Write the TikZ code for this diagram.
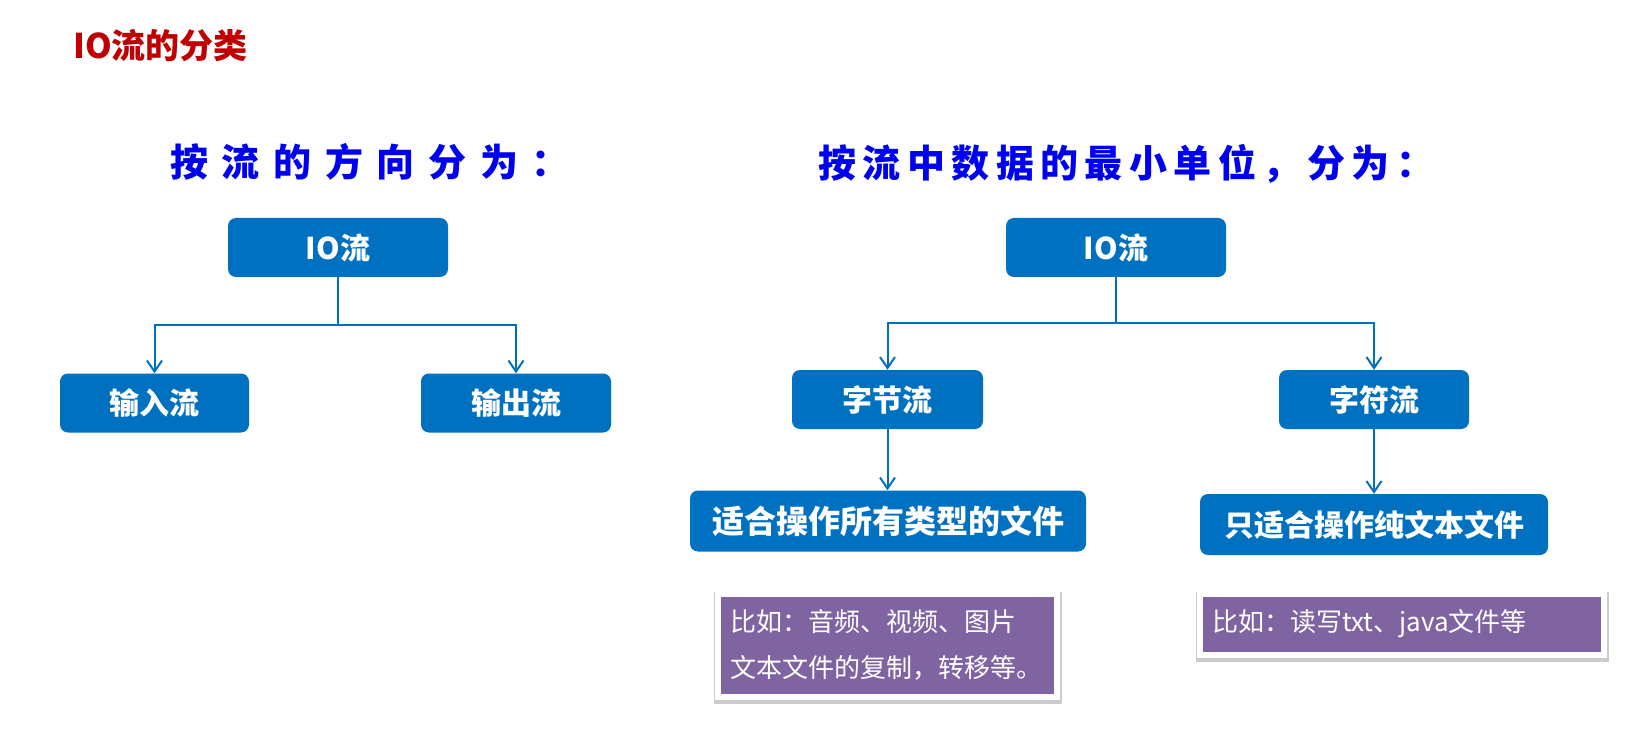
\documentclass[tikz,border=0pt]{standalone}
\usepackage{fontspec}
\setmainfont{Noto Sans CJK SC}
\newfontfamily\headwide{Noto Sans CJK SC}[LetterSpace=36]
\newfontfamily\headnarrow{Noto Sans CJK SC}[LetterSpace=17]
\usepackage{xcolor}
\usetikzlibrary{arrows.meta, positioning}

\definecolor{boxblue}{HTML}{0070C0}
\definecolor{notepurple}{HTML}{8064A2}
\definecolor{titlered}{HTML}{C00000}
\definecolor{headblue}{HTML}{0000F0}

\begin{document}
\begin{tikzpicture}[x=1pt, y=-1pt,
    blk/.style={rectangle, rounded corners=8pt, fill=boxblue, text=white,
        font=\fontsize{30}{36}\selectfont\bfseries, minimum height=59pt, inner sep=0pt},
    link/.style={draw=boxblue, line width=2pt, -{Straight Barb[length=11pt,width=15pt]}},
    note/.style={rectangle, fill=notepurple, draw=white, line width=6pt, text=white,
        font=\fontsize{26}{46}\selectfont, align=left, inner sep=0pt,
        preaction={draw=black!20, line width=9pt, transform canvas={shift={(0.5pt,-2.5pt)}}}},
    head/.style={anchor=west, inner sep=0pt, text=headblue}]
    \useasboundingbox (0,0) rectangle (1650,738);

    % title
    \node[anchor=west, inner sep=0pt, text=titlered,
        font=\fontsize{34}{40}\selectfont\bfseries] (title) at (73,46) {IO流的分类};

    % left: by direction
    \node[head, font=\headwide\fontsize{38}{44}\selectfont\bfseries] (head1) at (170,162) {按流的方向分为：};
    \node[blk, minimum width=220pt] (io1) at (338,247.5) {IO流};
    \node[blk, minimum width=189pt] (in) at (154.5,403) {输入流};
    \node[blk, minimum width=190pt] (out) at (516,403) {输出流};
    \coordinate (split1) at (338,325);
    \draw[link] (io1.south) -- (split1) -| (in.north);
    \draw[link] (split1) -| (out.north);

    % right: by data unit
    \node[head, font=\headnarrow\fontsize{38}{44}\selectfont\bfseries] (head2) at (818,164) {按流中数据的最小单位，分为：};
    \node[blk, minimum width=220pt] (io2) at (1116,247.5) {IO流};
    \node[blk, minimum width=191pt] (byte) at (887.5,399.5) {字节流};
    \node[blk, minimum width=190pt] (char) at (1374,399.5) {字符流};
    \coordinate (split2) at (1116,323);
    \draw[link] (io2.south) -- (split2) -| (byte.north);
    \draw[link] (split2) -| (char.north);

    \node[blk, minimum width=396pt, minimum height=61pt, font=\fontsize{32}{38}\selectfont\bfseries]
        (anyfile) at (888,521) {适合操作所有类型的文件};
    \node[blk, minimum width=348pt, minimum height=61pt] (txtfile) at (1374,524.5) {只适合操作纯文本文件};
    \draw[link] (byte.south) -- (byte.south |- anyfile.north);
    \draw[link] (char.south) -- (char.south |- txtfile.north);

    % examples
    \node[note, minimum width=339pt, minimum height=103pt, text width=315pt] (ex1) at (887.5,645)
        {比如：音频、视频、图片\\文本文件的复制，转移等。};
    \node[note, minimum width=404pt, minimum height=61pt, text width=380pt] (ex2) at (1402,624)
        {比如：读写txt、java文件等};
\end{tikzpicture}
\end{document}
